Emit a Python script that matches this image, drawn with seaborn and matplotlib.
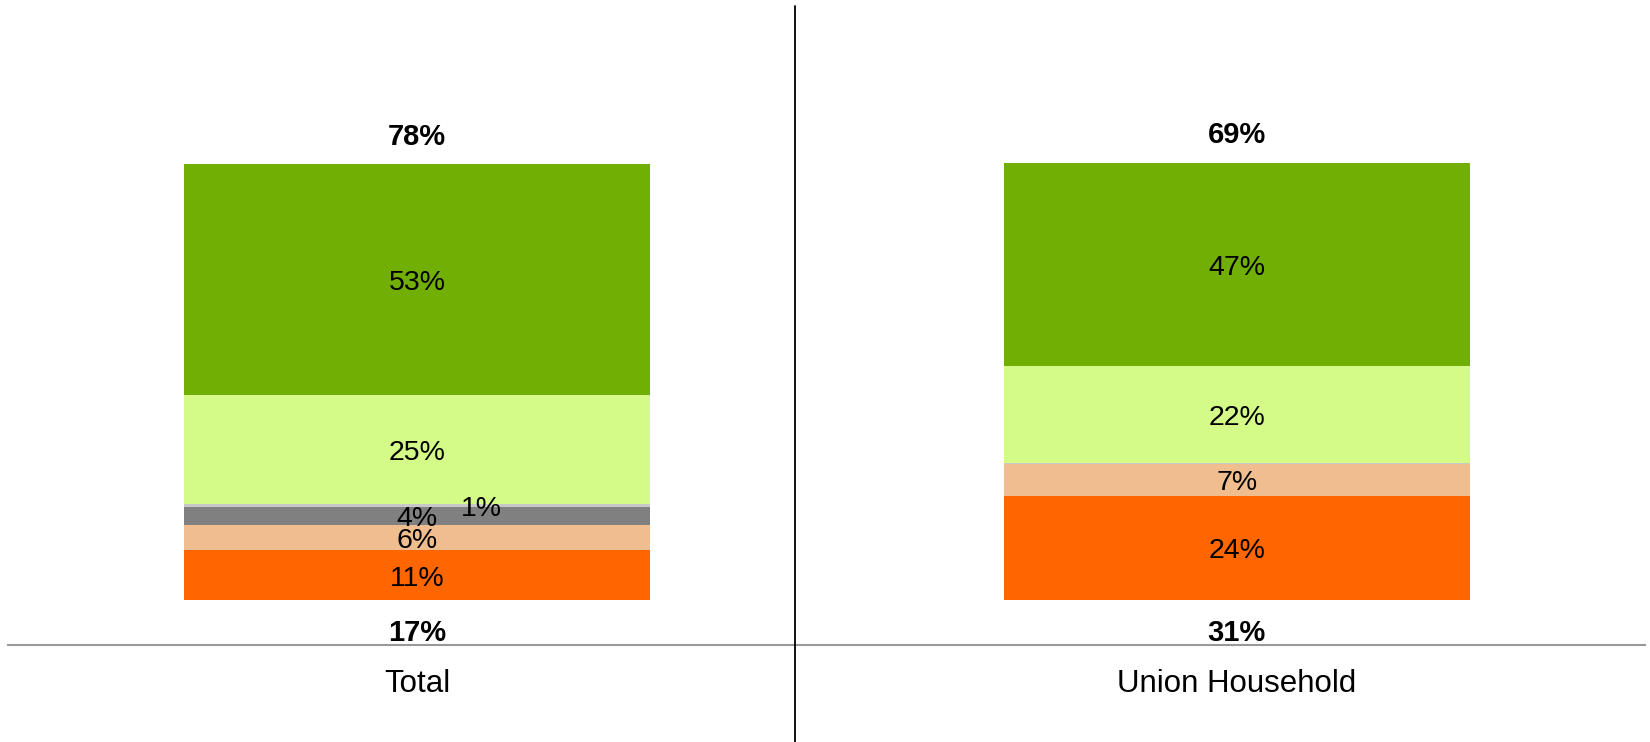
import numpy as np
import pandas as pd
import matplotlib.pyplot as plt
import seaborn as sns
from matplotlib.lines import Line2D

# categories and stacked segments (bottom -> top), in percent
groups = ["Total", "Union Household"]
seg_names = ["strong_no", "weak_no", "dont_know", "other", "weak_yes", "strong_yes"]
strong_no = [11.4, 23.9]
weak_no = [5.9, 7.25]
dont_know = [4.0, 0.0]
other = [0.6, 0.2]
weak_yes = [25.0, 22.2]
strong_yes = [53.1, 46.7]

seg_colors = ["#FF6600", "#F0BD8F", "#808080", "#C8C8C8", "#D4FA87", "#72AF05"]

sns.set_theme(style="white")
plt.rcParams["font.family"] = ["Liberation Sans", "DejaVu Sans"]

fig = plt.figure(figsize=(16.5, 7.42), dpi=100)
ax = fig.add_axes([8 / 1650, 97 / 742, 1637 / 1650, 645 / 742])

segments = [strong_no, weak_no, dont_know, other, weak_yes, strong_yes]
bottom = np.zeros(len(groups))
for name, vals, col in zip(seg_names, segments, seg_colors):
    df = pd.DataFrame({"group": groups, "value": vals})
    sns.barplot(data=df, x="group", y="value", color=col, width=0.569,
                bottom=bottom.copy(), linewidth=0, saturation=1, ax=ax, errorbar=None)
    # labels in the middle of each segment
    for i, v in enumerate(vals):
        if v < 0.5:
            continue
        dx = 0.078 if name == "other" else 0
        ax.annotate(f"{round(v)}%", (i + dx, bottom[i] + v / 2), xytext=(0, -2.5),
                    textcoords="offset points", ha="center", va="center",
                    fontsize=20.5, color="black")
    bottom += np.array(vals)

# net totals: yes on top, no under the bar
for i in range(len(groups)):
    top_sum = round(strong_yes[i] + weak_yes[i])
    low_sum = round(strong_no[i] + weak_no[i])
    ax.annotate(f"{top_sum}%", (i, bottom[i]), xytext=(0, 19.5), textcoords="offset points",
                ha="center", va="center", fontsize=21, fontweight="bold", color="black")
    ax.annotate(f"{low_sum}%", (i, 0), xytext=(0, -23.5), textcoords="offset points",
                ha="center", va="center", fontsize=21, fontweight="bold", color="black")

ax.set_xlim(-0.499, 1.498)
ax.set_ylim(-10.3, 137.5)
ax.set_xlabel("")
ax.set_ylabel("")
ax.set_yticks([])
ax.tick_params(axis="x", length=0, pad=17, labelsize=22.5, labelcolor="black")
for s in ["top", "left", "right"]:
    ax.spines[s].set_visible(False)
ax.spines["bottom"].set_color("#999999")
ax.spines["bottom"].set_linewidth(1.5)

# vertical divider between the two groups
fig.add_artist(Line2D([795 / 1650, 795 / 1650], [0, 1 - 6 / 742], color="black", lw=1.3))

fig.savefig("out.png", dpi=100)
